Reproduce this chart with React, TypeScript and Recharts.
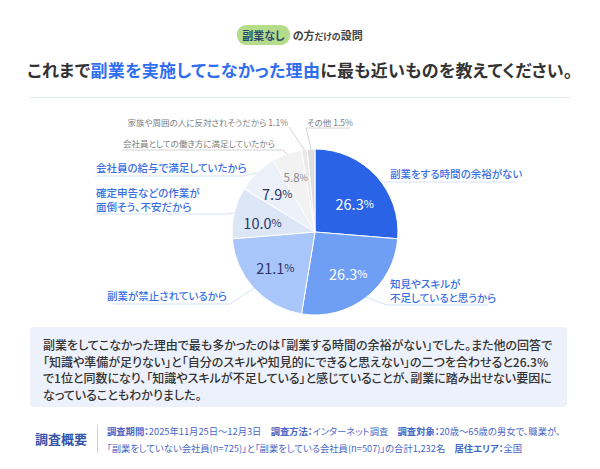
import React from 'react';
import { PieChart, Pie, Cell } from 'recharts';

// answers, clockwise from 12 o'clock
const REASONS = [
  '副業をする時間の余裕がない',
  '知見やスキルが\n不足していると思うから',
  '副業が禁止されているから',
  '確定申告などの作業が\n面倒そう、不安だから',
  '会社員の給与で満足していたから',
  '会社員としての働き方に満足していたから',
  '家族や周囲の人に反対されそうだから',
  'その他',
];
const SHARES = [26.3, 26.3, 21.1, 10.0, 7.9, 5.8, 1.1, 1.5];

const SLICE_COLORS = ['#2a63e6', '#6f9ff5', '#a9c6fa', '#dce6f7', '#ebf0f9', '#f2f2f3', '#e9e9ea', '#dedede'];
const PCT_COLORS = ['#ffffff', '#ffffff', '#2b3766', '#2b3766', '#2b3766', '#8a8a8a', null, null];

// where each outer caption sits (text anchor, underline, leader elbow)
const CAPTIONS = [
  { x: 390, y: 173, anchor: 'start', size: 10.5, color: '#3a6fe4', lx1: 383, lx2: 516, ly: 182, inline: false },
  { x: 390, y: 283, anchor: 'start', size: 10.5, color: '#3a6fe4', lx1: 387, lx2: 488, ly: 305, inline: false },
  { x: 227, y: 295, anchor: 'end', size: 10.5, color: '#3a6fe4', lx1: 113, lx2: 230, ly: 304, inline: false },
  { x: 96, y: 192, anchor: 'start', size: 10.5, color: '#3a6fe4', lx1: 95, lx2: 228, ly: 214, inline: false },
  { x: 96, y: 167, anchor: 'start', size: 10.5, color: '#3a6fe4', lx1: 95, lx2: 243, ly: 176, inline: false },
  { x: 123, y: 143, anchor: 'start', size: 8.5, color: '#7c7c7c', lx1: 122, lx2: 283, ly: 150, inline: false },
  { x: 288, y: 122, anchor: 'end', size: 8.5, color: '#7c7c7c', lx1: 289, lx2: 289, ly: 127, inline: true },
  { x: 307, y: 122, anchor: 'start', size: 8.5, color: '#7c7c7c', lx1: 306, lx2: 350, ly: 128, inline: true },
];
const PCT_NUDGE = [[0, 8], [0, -2], [0, -2], [0, 2], [0, 0], [-1, -4], [0, 0], [0, 0]];

const SUMMARY = [
  '副業をしてこなかった理由で最も多かったのは「副業する時間の余裕がない」でした。また他の回答で',
  '「知識や準備が足りない」と「自分のスキルや知見的にできると思えない」の二つを合わせると26.3%',
  'で1位と同数になり、「知識やスキルが不足している」と感じていることが、副業に踏み出せない要因に',
  'なっていることもわかりました。',
];

const data = REASONS.map((name, i) => ({ name, value: SHARES[i] }));

const RADIAN = Math.PI / 180;
const FONT = '"Noto Sans CJK JP", "Noto Sans", sans-serif';

const renderLabel = (props: any) => {
  const { cx, cy, midAngle, outerRadius, index, value } = props;
  const cos = Math.cos(-midAngle * RADIAN);
  const sin = Math.sin(-midAngle * RADIAN);
  const cap = CAPTIONS[index];
  const lines = REASONS[index].split('\n');
  const edgeX = cx + outerRadius * cos;
  const edgeY = cy + outerRadius * sin;
  const elbowX = cap.anchor === 'end' || cap.lx2 < cx ? cap.lx2 : cap.lx1;
  const pctColor = PCT_COLORS[index];
  const r = outerRadius * 0.65;
  const [nx, ny] = PCT_NUDGE[index];
  const pctText = value.toFixed(1);
  return (
    <g key={`lab-${index}`}>
      <polyline
        points={`${edgeX},${edgeY} ${elbowX},${cap.ly} ${elbowX === cap.lx1 ? cap.lx2 : cap.lx1},${cap.ly}`}
        fill="none"
        stroke={cap.size < 10 ? '#d4d4d4' : '#d6e2f7'}
        strokeWidth={1}
      />
      <text
        x={cap.x}
        y={cap.y}
        textAnchor={cap.anchor}
        dominantBaseline="central"
        fill={cap.color}
        fontSize={cap.size}
        fontWeight={cap.size < 10 ? 400 : 500}
        fontFamily={FONT}
      >
        {lines.map((l, i) => (
          <tspan key={i} x={cap.x} dy={i === 0 ? 0 : 14}>
            {l}
            {cap.inline ? ` ${pctText}%` : ''}
          </tspan>
        ))}
      </text>
      {pctColor && (
        <text
          x={cx + r * cos + nx}
          y={cy + r * sin + ny}
          textAnchor="middle"
          dominantBaseline="central"
          fill={pctColor}
          fontFamily={FONT}
          fontWeight={400}
        >
          <tspan fontSize={index < 5 ? 14.5 : 11.5}>{pctText}</tspan>
          <tspan fontSize={index < 5 ? 11 : 9}>%</tspan>
        </text>
      )}
    </g>
  );
};

export default function App() {
  return (
    <div
      style={{
        position: 'absolute',
        left: 0,
        top: 0,
        width: 600,
        height: 469,
        background: '#ffffff',
        fontFamily: FONT,
        fontFeatureSettings: '"palt"',
        overflow: 'hidden',
      }}
    >
      <div style={{ position: 'absolute', top: 27, left: 0, width: 600, textAlign: 'center', fontSize: 11, color: '#444', fontWeight: 700 }}>
        <span style={{ background: '#b5dc8b', color: '#2c4b6e', borderRadius: 9, padding: '2px 5px' }}>副業なし</span>
        <span style={{ marginLeft: 3 }}>の方<span style={{ fontSize: 9 }}>だけの</span>設問</span>
      </div>
      <div style={{ position: 'absolute', top: 57, left: 0, width: 600, textAlign: 'center', fontSize: 17, fontWeight: 700, color: '#333', letterSpacing: 0.3 }}>
        これまで<span style={{ color: '#2f6ef0' }}>副業を実施してこなかった理由</span>に最も近いものを教えてください。
      </div>
      <div style={{ position: 'absolute', top: 97, left: 30, width: 540, height: 1, background: '#e4ebf8' }} />

      <div style={{ position: 'absolute', left: 0, top: 0 }}>
        <PieChart width={600} height={320}>
          <Pie
            data={data}
            dataKey="value"
            nameKey="name"
            cx={310}
            cy={227}
            outerRadius={83}
            startAngle={90}
            endAngle={-270}
            stroke="#ffffff"
            strokeWidth={1}
            label={renderLabel}
            labelLine={false}
            isAnimationActive={false}
          >
            {data.map((d, i) => (
              <Cell key={d.name} fill={SLICE_COLORS[i]} />
            ))}
          </Pie>
        </PieChart>
      </div>

      <div
        style={{
          position: 'absolute',
          left: 30,
          top: 327,
          width: 537,
          height: 80,
          boxSizing: 'border-box',
          background: '#edf1fb',
          borderRadius: 4,
          padding: '10px 0 0 13px',
          fontSize: 12,
          lineHeight: '16.5px',
          color: '#333',
          fontWeight: 500,
          whiteSpace: 'nowrap',
        }}
      >
        {SUMMARY.map((line, i) => (
          <div key={i}>{line}</div>
        ))}
      </div>

      <div style={{ position: 'absolute', left: 35, top: 429, fontSize: 13, fontWeight: 700, color: '#3553a6' }}>調査概要</div>
      <div style={{ position: 'absolute', left: 97, top: 425, width: 1, height: 28, background: '#c9d3e8' }} />
      <div style={{ position: 'absolute', left: 107, top: 423, width: 475, fontSize: 9.3, lineHeight: '17px', color: '#4766c6', whiteSpace: 'nowrap' }}>
        <b>調査期間：</b>2025年11月25日～12月3日　<b>調査方法：</b>インターネット調査　<b>調査対象：</b>20歳～65歳の男女で、職業が、
        <br />
        「副業をしていない会社員(n=725)」と「副業をしている会社員(n=507)」の合計1,232名　<b>居住エリア：</b>全国
      </div>
    </div>
  );
}
